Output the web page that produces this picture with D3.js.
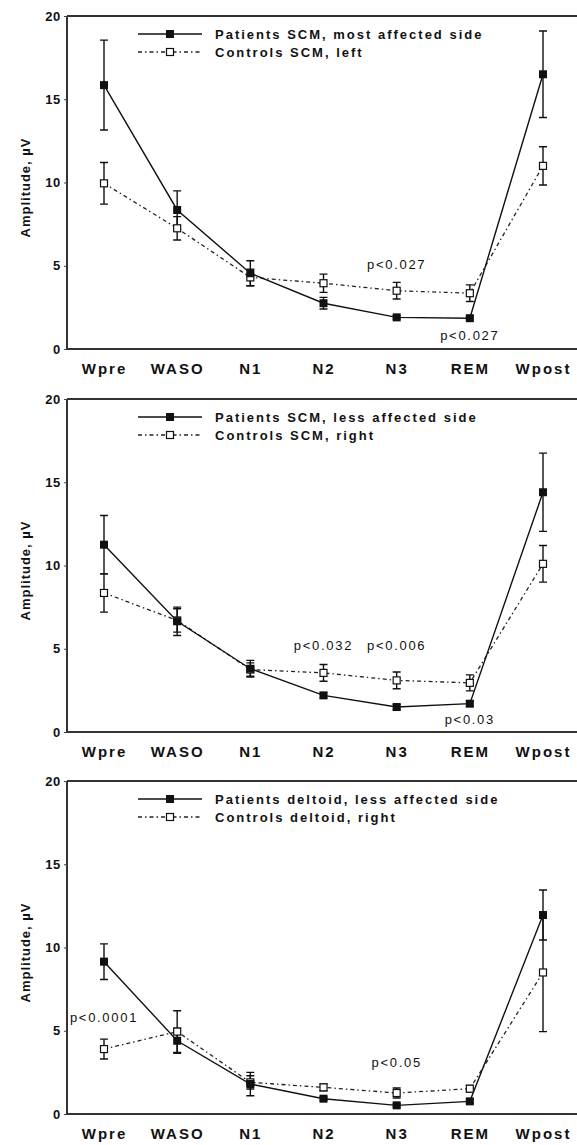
<!DOCTYPE html>
<html>
<head>
<meta charset="utf-8">
<script src="https://cdn.jsdelivr.net/npm/d3@7"></script>
<style>
  body { margin: 0; background: #fff; }
  svg { display: block; }
  text { font-family: "Liberation Sans", Arial, Helvetica, sans-serif; fill: #111; }
</style>
</head>
<body>
<svg id="chart" width="577" height="1145"></svg>
<script>
var stages = [ "Wpre", "WASO", "N1", "N2", "N3", "REM", "Wpost" ];
var yTicks = [ 0, 5, 10, 15, 20 ];

// panel 1 - SCM, most affected side vs left
var scmMostPatients     = [ 15.85, 8.35, 4.55, 2.75, 1.9, 1.85, 16.5 ];
var scmMostPatientsErr  = [ 2.7, 1.15, 0.75, 0.35, 0.1, 0.1, 2.6 ];
var scmLeftControls     = [ 9.95, 7.25, 4.3, 3.95, 3.5, 3.35, 11.0 ];
var scmLeftControlsErr  = [ 1.25, 0.7, 0.5, 0.55, 0.5, 0.5, 1.15 ];

// panel 2 - SCM, less affected side vs right
var scmLessPatients     = [ 11.25, 6.65, 3.8, 2.2, 1.5, 1.7, 14.4 ];
var scmLessPatientsErr  = [ 1.75, 0.85, 0.5, 0.15, 0.15, 0.15, 2.35 ];
var scmRightControls    = [ 8.35, 6.7, 3.75, 3.55, 3.1, 2.95, 10.1 ];
var scmRightControlsErr = [ 1.15, 0.7, 0.4, 0.5, 0.5, 0.48, 1.1 ];

// panel 3 - deltoid, less affected side vs right
var deltoidPatients     = [ 9.15, 4.4, 1.8, 0.92, 0.52, 0.76, 11.95 ];
var deltoidPatientsErr  = [ 1.07, 0.75, 0.7, 0.1, 0.1, 0.1, 1.5 ];
var deltoidControls     = [ 3.9, 4.95, 1.9, 1.6, 1.26, 1.52, 8.5 ];
var deltoidControlsErr  = [ 0.6, 1.25, 0.4, 0.2, 0.3, 0.2, 3.55 ];

var patientLabels = [ "Patients SCM, most affected side", "Patients SCM, less affected side", "Patients deltoid, less affected side" ];
var controlLabels = [ "Controls SCM, left", "Controls SCM, right", "Controls deltoid, right" ];

// significance notes: stage, amplitude level of the text baseline
var notes1 = [ { text: "p<0.027", stage: "N3", level: 4.8 }, { text: "p<0.027", stage: "REM", level: 0.55 } ];
var notes2 = [ { text: "p<0.032", stage: "N2", level: 4.9 }, { text: "p<0.006", stage: "N3", level: 4.9 }, { text: "p<0.03", stage: "REM", level: 0.5 } ];
var notes3 = [ { text: "p<0.0001", stage: "Wpre", level: 5.5 }, { text: "p<0.05", stage: "N3", level: 2.85 } ];

var panels = [
    { top: 16,  patients: scmMostPatients, patientsErr: scmMostPatientsErr, controls: scmLeftControls, controlsErr: scmLeftControlsErr, notes: notes1 },
    { top: 399, patients: scmLessPatients, patientsErr: scmLessPatientsErr, controls: scmRightControls, controlsErr: scmRightControlsErr, notes: notes2 },
    { top: 781, patients: deltoidPatients, patientsErr: deltoidPatientsErr, controls: deltoidControls, controlsErr: deltoidControlsErr, notes: notes3 }
];

var svg = d3.select( "#chart" );
var left = 67, right = 577, plotH = 333;
var ctrlDash = "4,3,1.5,3";

var x = d3.scalePoint().domain( stages ).range( [ 104, 543 ] );

panels.forEach( function( p, i ) {
    drawPanel( p, i );
});

function drawPanel( p, i ) {
    var g = svg.append( "g" ).attr( "class", "panel" );
    var y = d3.scaleLinear().domain( [ 0, 20 ] ).range( [ p.top + plotH, p.top ] );

    // frame: top, left and bottom
    g.append( "line" ).attr( "x1", left ).attr( "x2", right ).attr( "y1", p.top ).attr( "y2", p.top )
        .attr( "stroke", "#333" ).attr( "stroke-width", 2 );

    var yAxis = d3.axisLeft( y ).tickValues( yTicks ).tickSize( 3 ).tickPadding( 3 );
    var ya = g.append( "g" ).attr( "transform", "translate(" + left + ",0)" ).call( yAxis );
    ya.select( ".domain" ).attr( "stroke", "#333" ).attr( "stroke-width", 2 ).attr( "d", "M0," + p.top + "V" + ( p.top + plotH ) );
    ya.selectAll( ".tick line" ).attr( "stroke", "#444" );
    ya.selectAll( ".tick text" ).attr( "font-size", 13 ).attr( "font-weight", "bold" ).attr( "fill", "#222" ).style( "letter-spacing", "0.7px" );

    var xAxis = d3.axisBottom( x ).tickSize( 0 ).tickPadding( 14 );
    var xa = g.append( "g" ).attr( "transform", "translate(0," + ( p.top + plotH ) + ")" ).call( xAxis );
    xa.select( ".domain" ).attr( "stroke", "#333" ).attr( "stroke-width", 2 ).attr( "d", "M" + left + ",0H" + right );
    xa.selectAll( ".tick text" ).attr( "font-size", 15 ).attr( "font-weight", "bold" ).attr( "fill", "#111" ).style( "letter-spacing", "2px" );

    g.append( "text" )
        .attr( "transform", "translate(30," + ( p.top + plotH / 2 + 5 ) + ") rotate(-90)" )
        .attr( "text-anchor", "middle" )
        .attr( "font-size", 13 ).attr( "font-weight", "bold" )
        .style( "letter-spacing", "1px" )
        .text( "Amplitude, µV" );

    var line = d3.line()
        .x( function( d, k ) { return x( stages[ k ] ); } )
        .y( function( d ) { return y( d ); } );

    // control series
    drawErrors( g, p.controls, p.controlsErr, y );
    g.append( "path" ).attr( "d", line( p.controls ) ).attr( "fill", "none" )
        .attr( "stroke", "#222" ).attr( "stroke-width", 1.3 ).attr( "stroke-dasharray", ctrlDash );

    // patient series
    drawErrors( g, p.patients, p.patientsErr, y );
    g.append( "path" ).attr( "d", line( p.patients ) ).attr( "fill", "none" )
        .attr( "stroke", "#111" ).attr( "stroke-width", 1.4 );

    g.selectAll( "rect.ctrl" ).data( p.controls ).enter().append( "rect" ).attr( "class", "ctrl" )
        .attr( "x", function( d, k ) { return x( stages[ k ] ) - 3.5; } )
        .attr( "y", function( d ) { return y( d ) - 3.5; } )
        .attr( "width", 7 ).attr( "height", 7 )
        .attr( "fill", "#fff" ).attr( "stroke", "#111" ).attr( "stroke-width", 1.2 );

    g.selectAll( "rect.pat" ).data( p.patients ).enter().append( "rect" ).attr( "class", "pat" )
        .attr( "x", function( d, k ) { return x( stages[ k ] ) - 4; } )
        .attr( "y", function( d ) { return y( d ) - 4; } )
        .attr( "width", 8 ).attr( "height", 8 )
        .attr( "fill", "#111" );

    drawLegend( g, p.top, patientLabels[ i ], controlLabels[ i ] );

    g.selectAll( "text.note" ).data( p.notes ).enter().append( "text" ).attr( "class", "note" )
        .attr( "x", function( d ) { return x( d.stage ); } )
        .attr( "y", function( d ) { return y( d.level ); } )
        .attr( "text-anchor", "middle" )
        .attr( "font-size", 13 )
        .style( "letter-spacing", "1.7px" )
        .text( function( d ) { return d.text; } );
}

function drawErrors( g, values, errs, y ) {
    var cap = 4;
    values.forEach( function( v, k ) {
        var cx = x( stages[ k ] ), hi = y( v + errs[ k ] ), lo = y( v - errs[ k ] );
        var path = "M" + cx + "," + hi + "V" + lo +
            "M" + ( cx - cap ) + "," + hi + "H" + ( cx + cap ) +
            "M" + ( cx - cap ) + "," + lo + "H" + ( cx + cap );
        g.append( "path" ).attr( "d", path ).attr( "fill", "none" )
            .attr( "stroke", "#111" ).attr( "stroke-width", 1.4 );
    });
}

function drawLegend( g, top, patLabel, ctrlLabel ) {
    var lx1 = 138, lx2 = 202, mx = 170, tx = 215;
    var r1 = top + 18, r2 = top + 36;

    g.append( "line" ).attr( "x1", lx1 ).attr( "x2", lx2 ).attr( "y1", r1 ).attr( "y2", r1 )
        .attr( "stroke", "#111" ).attr( "stroke-width", 1.4 );
    g.append( "rect" ).attr( "x", mx - 4 ).attr( "y", r1 - 4 ).attr( "width", 8 ).attr( "height", 8 ).attr( "fill", "#111" );

    g.append( "line" ).attr( "x1", lx1 ).attr( "x2", lx2 ).attr( "y1", r2 ).attr( "y2", r2 )
        .attr( "stroke", "#222" ).attr( "stroke-width", 1.3 ).attr( "stroke-dasharray", ctrlDash );
    g.append( "rect" ).attr( "x", mx - 3.5 ).attr( "y", r2 - 3.5 ).attr( "width", 7 ).attr( "height", 7 )
        .attr( "fill", "#fff" ).attr( "stroke", "#111" ).attr( "stroke-width", 1.2 );

    g.append( "text" ).attr( "x", tx ).attr( "y", r1 + 5 ).attr( "font-size", 13 ).attr( "font-weight", "bold" )
        .style( "letter-spacing", "2px" ).text( patLabel );
    g.append( "text" ).attr( "x", tx ).attr( "y", r2 + 5 ).attr( "font-size", 13 ).attr( "font-weight", "bold" )
        .style( "letter-spacing", "2px" ).text( ctrlLabel );
}
</script>
</body>
</html>
